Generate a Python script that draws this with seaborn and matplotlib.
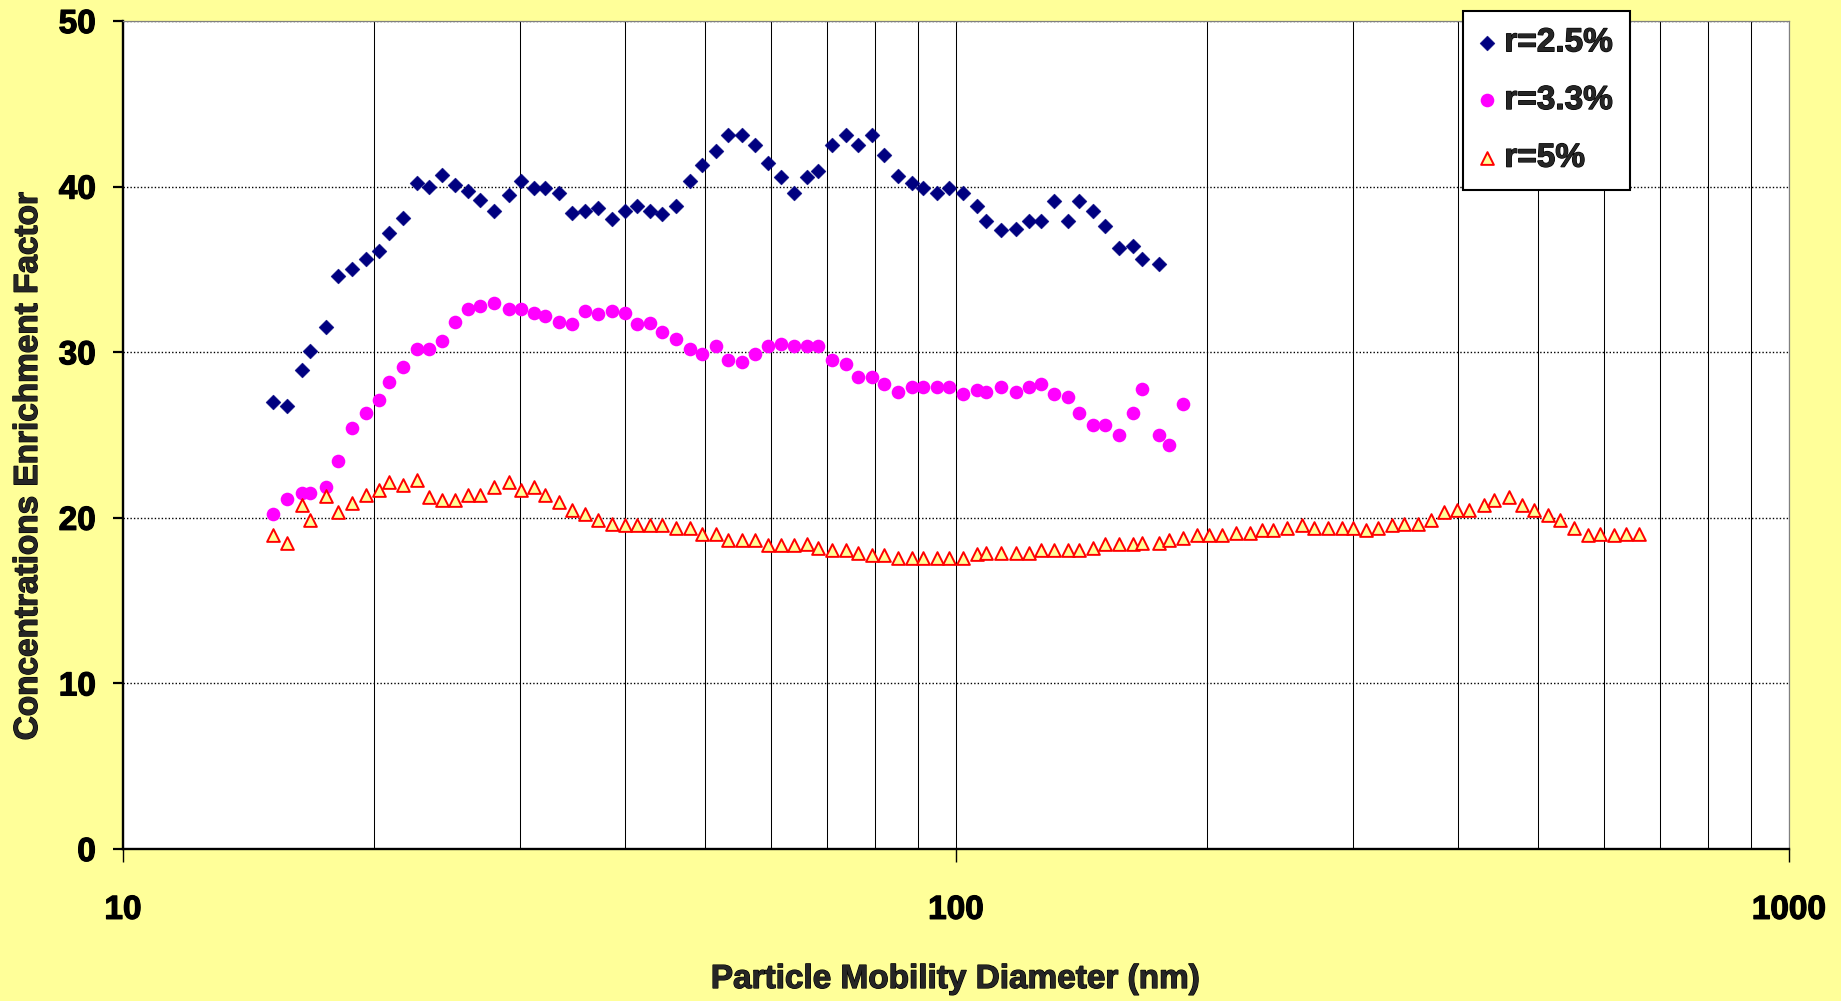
import matplotlib
matplotlib.use("Agg")
import matplotlib.pyplot as plt
import matplotlib.patheffects as pe
import seaborn as sns
import pandas as pd
from matplotlib.ticker import FixedLocator, NullFormatter

# ---------------- data ----------------
diameter_nm = [15.15, 15.75, 16.39, 16.77, 17.52, 18.12, 18.83, 19.57, 20.27, 20.88,
               21.70, 22.56, 23.32, 24.15, 25.06, 25.96, 26.83, 27.89, 29.04, 30.02,
               31.14, 32.14, 33.4, 34.6, 35.9, 37.2, 38.6, 40.1, 41.4, 42.9,
               44.4, 46.1, 47.95, 49.6, 51.5, 53.2, 55.3, 57.4, 59.4, 61.7,
               63.9, 66.2, 68.3, 71.0, 73.8, 76.2, 79.3, 82.0, 85.2, 88.6,
               91.4, 94.8, 98.2, 102.0, 106.1, 108.6, 113.1, 118.0, 122.3, 126.4,
               131.1, 136.3, 140.6, 146.2, 151.1, 157.0, 163.2, 167.2, 175.4, 180.2,
               187.4, 194.6, 201.0, 208.7, 217.0, 225.6, 232.7, 240.5, 250.0, 259.9,
               268.7, 279.3, 290.3, 299.4, 310.7, 321.1, 333.7, 345.0, 358.6, 372.1,
               385.3, 399.9, 413.2, 430.3, 443.0, 460.6, 477.8, 493.8, 513.3, 530.5,
               552.6, 574.4, 592.6, 616.0, 636.6, 660.4]

r25 = [27.0, 26.75, 28.9, 30.1, 31.5, 34.6, 35.0, 35.6, 36.1, 37.2,
       38.1, 40.2, 40.0, 40.7, 40.1, 39.75, 39.2, 38.5, 39.5, 40.35,
       39.9, 39.9, 39.6, 38.4, 38.5, 38.7, 38.05, 38.5, 38.8, 38.5,
       38.35, 38.8, 40.35, 41.3, 42.15, 43.1, 43.1, 42.5, 41.45, 40.6,
       39.6, 40.6, 40.95, 42.5, 43.1, 42.5, 43.1, 41.9, 40.65, 40.2,
       39.9, 39.6, 39.9, 39.6, 38.8, 37.95, 37.35, 37.45, 37.95, 37.95,
       39.15, 37.95, 39.15, 38.55, 37.6, 36.3, 36.4, 35.65, 35.3]

r33 = [20.2, 21.15, 21.5, 21.5, 21.85, 23.45, 25.4, 26.35, 27.1, 28.2,
       29.1, 30.2, 30.2, 30.65, 31.85, 32.6, 32.8, 32.95, 32.6, 32.6,
       32.35, 32.2, 31.8, 31.7, 32.5, 32.3, 32.5, 32.35, 31.7, 31.75,
       31.25, 30.8, 30.2, 29.9, 30.35, 29.5, 29.4, 29.9, 30.35, 30.5,
       30.35, 30.35, 30.35, 29.5, 29.3, 28.5, 28.5, 28.05, 27.6, 27.9,
       27.9, 27.9, 27.9, 27.45, 27.7, 27.6, 27.9, 27.6, 27.9, 28.05,
       27.45, 27.3, 26.35, 25.6, 25.6, 25.0, 26.35, 27.75, 25.0, 24.4, 26.9]

r5 = [18.96, 18.45, 20.8, 19.85, 21.3, 20.35, 20.9, 21.4, 21.7, 22.15,
      22.0, 22.3, 21.25, 21.1, 21.1, 21.35, 21.35, 21.85, 22.15, 21.7,
      21.85, 21.35, 20.95, 20.5, 20.2, 19.85, 19.6, 19.55, 19.55, 19.55,
      19.55, 19.4, 19.4, 19.05, 19.0, 18.65, 18.65, 18.65, 18.35, 18.35,
      18.35, 18.4, 18.2, 18.05, 18.05, 17.9, 17.75, 17.75, 17.6, 17.6,
      17.6, 17.6, 17.6, 17.6, 17.8, 17.9, 17.9, 17.9, 17.9, 18.05,
      18.05, 18.05, 18.05, 18.2, 18.4, 18.4, 18.4, 18.5, 18.5, 18.65,
      18.8, 18.95, 18.95, 18.95, 19.1, 19.1, 19.25, 19.25, 19.4, 19.55,
      19.4, 19.4, 19.4, 19.4, 19.25, 19.4, 19.55, 19.65, 19.65, 19.85,
      20.35, 20.45, 20.45, 20.75, 21.1, 21.25, 20.75, 20.45, 20.15, 19.85,
      19.4, 18.95, 19.05, 18.95, 19.05, 19.05]

series_labels = ["r=2.5%", "r=3.3%", "r=5%"]
x_major = [10, 100, 1000]
x_major_labels = ["10", "100", "1000"]
y_ticks = [0, 10, 20, 30, 40, 50]
x_title = "Particle Mobility Diameter (nm)"
y_title = "Concentrations Enrichment Factor"

# ---------------- style ----------------
sns.set_style("white")
plt.rcParams["font.family"] = ["Liberation Sans", "DejaVu Sans"]
plt.rcParams["font.weight"] = "bold"

BG = "#FFFF99"
W, H = 1841, 1001
fig = plt.figure(figsize=(W / 100, H / 100), dpi=100, facecolor=BG)
L, R, T, B = 123, 1789, 21, 849
ax = fig.add_axes([L / W, 1 - B / H, (R - L) / W, (B - T) / H])
ax.set_facecolor("white")

d1 = pd.DataFrame({"d": diameter_nm[:len(r25)], "v": r25})
d2 = pd.DataFrame({"d": diameter_nm[:len(r33)], "v": r33})
d3 = pd.DataFrame({"d": diameter_nm[:len(r5)], "v": r5})

sns.scatterplot(data=d1, x="d", y="v", ax=ax, marker="D", s=58, color="#000080",
                edgecolor="#000080", linewidth=0.3, label=series_labels[0], zorder=3)
sns.scatterplot(data=d2, x="d", y="v", ax=ax, marker="o", s=96, color="#FF00FF",
                edgecolor="#FF00FF", linewidth=0, label=series_labels[1], zorder=4)
sns.scatterplot(data=d3, x="d", y="v", ax=ax, marker="^", s=84, color="#FFFF99",
                edgecolor="#FF0000", linewidth=1.4, label=series_labels[2], zorder=5)

ax.set_xscale("log")
ax.set_xlim(10, 1000)
ax.set_ylim(0, 50)
ax.set_xlabel("")
ax.set_ylabel("")

ax.xaxis.set_major_locator(FixedLocator(x_major))
ax.set_xticklabels(x_major_labels)
minors = [m * 10 ** k for k in (1, 2) for m in range(2, 10)]
ax.xaxis.set_minor_locator(FixedLocator(minors))
ax.xaxis.set_minor_formatter(NullFormatter())
ax.set_yticks(y_ticks)
ax.set_yticklabels([str(t) for t in y_ticks])

ax.tick_params(axis="x", which="major", direction="out", length=9, width=1.0,
               pad=24, labelsize=24, colors="black", bottom=True)
ax.tick_params(axis="x", which="minor", length=0)
ax.tick_params(axis="y", which="major", direction="out", length=7.5, width=1.6,
               pad=12, labelsize=24, colors="black", left=True)

heavy = [pe.withStroke(linewidth=0.9, foreground="black")]
for lab in ax.get_xticklabels() + ax.get_yticklabels():
    lab.set_fontweight("bold")
    lab.set_path_effects(heavy)

ax.grid(False)
ax.xaxis.grid(True, which="both", color="black", linewidth=0.75, linestyle="-")
ax.yaxis.grid(True, which="major", color="black", linewidth=1.0, linestyle=(0, (1.0, 1.5)))
ax.set_axisbelow(True)

for s in ("left", "bottom"):
    ax.spines[s].set_color("black")
    ax.spines[s].set_linewidth(1.7)
for s in ("top", "right"):
    ax.spines[s].set_color("#808080")
    ax.spines[s].set_linewidth(0.9)

fig.text(956 / W, 1 - 988 / H, x_title, ha="center", va="baseline",
         fontsize=24, fontweight="bold", path_effects=heavy)
fig.text(28.5 / W, 1 - 465.5 / H, y_title, ha="center", va="center",
         rotation=90, fontsize=24, fontweight="bold", path_effects=heavy)

leg = ax.legend(loc="upper left", bbox_to_anchor=(1462.7 / W, 1 - 10.7 / H),
                bbox_transform=fig.transFigure, borderaxespad=0, frameon=True,
                fancybox=False, edgecolor="black", framealpha=1, facecolor="white",
                prop={"size": 24, "weight": "bold"}, handlelength=0.45,
                handletextpad=0.3, labelspacing=0.8, borderpad=0.5)
leg.get_frame().set_linewidth(1.5)
leg.set_zorder(10)
for t in leg.get_texts():
    t.set_path_effects(heavy)

fig.savefig("out.png", dpi=100, facecolor=BG)
